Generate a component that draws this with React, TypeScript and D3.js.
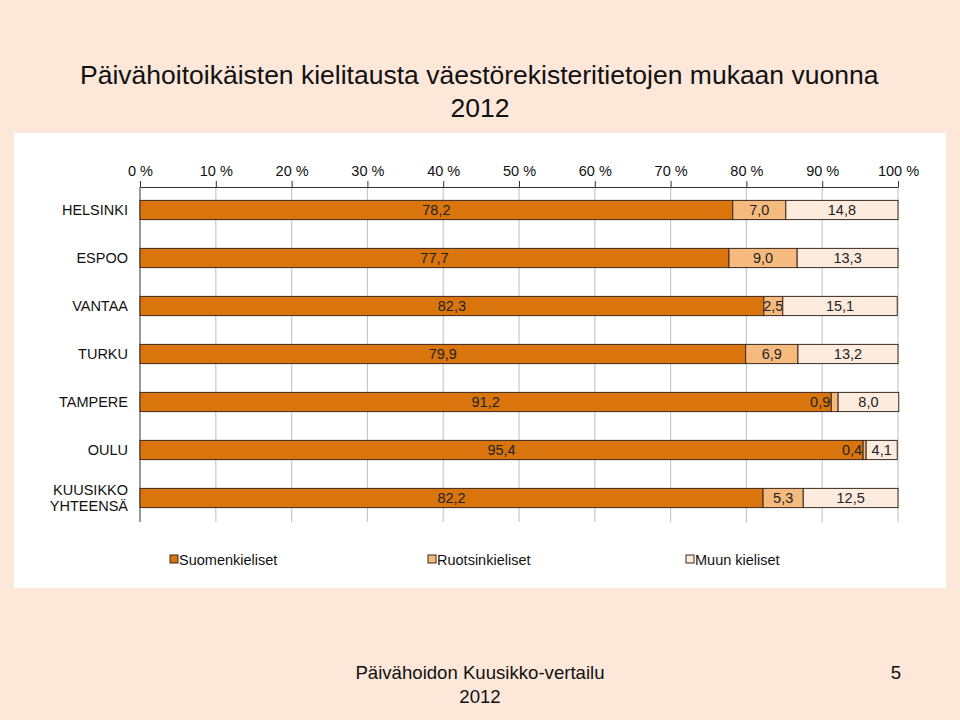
import React, { useEffect, useRef } from 'react';
import * as d3 from 'd3';

const categories = ['HELSINKI', 'ESPOO', 'VANTAA', 'TURKU', 'TAMPERE', 'OULU', 'KUUSIKKO\nYHTEENSÄ'];
const suomi = [78.2, 77.7, 82.3, 79.9, 91.2, 95.4, 82.2];
const ruotsi = [7.0, 9.0, 2.5, 6.9, 0.9, 0.4, 5.3];
const muu = [14.8, 13.3, 15.1, 13.2, 8.0, 4.1, 12.5];
const seriesNames = ['Suomenkieliset', 'Ruotsinkieliset', 'Muun kieliset'];
const seriesColors = ['#DA750E', '#F6BA7E', '#FDEBDD'];
const ticks = [0, 10, 20, 30, 40, 50, 60, 70, 80, 90, 100];

const W = 960;
const H = 720;
const FONT = '"Liberation Sans", Arial, sans-serif';
const FS = 14.5;

const App: React.FC = () => {
  const svgRef = useRef<SVGSVGElement>(null);

  useEffect(() => {
    if (!svgRef.current) return;
    const svg = d3.select(svgRef.current);
    svg.selectAll('*').remove();

    // slide background
    svg.append('rect').attr('width', W).attr('height', H).attr('fill', '#FCE7D9');
    svg.append('rect')
      .attr('x', 14).attr('y', 133).attr('width', 932).attr('height', 455)
      .attr('fill', '#ffffff');

    // title
    svg.append('text')
      .attr('x', 80).attr('y', 84)
      .attr('font-family', FONT).attr('font-size', 26.5).attr('fill', '#111')
      .text('Päivähoitoikäisten kielitausta väestörekisteritietojen mukaan vuonna');
    svg.append('text')
      .attr('x', 480).attr('y', 117).attr('text-anchor', 'middle')
      .attr('font-family', FONT).attr('font-size', 26.5).attr('fill', '#111')
      .text('2012');

    const x = d3.scaleLinear().domain([0, 100]).range([140, 898]);
    const y = d3.scaleBand<string>().domain(categories).range([186, 522]).paddingInner(0.6).paddingOuter(0.3);

    const g = svg.append('g');

    // gridlines
    g.selectAll('.grid')
      .data(ticks.slice(1))
      .enter().append('line')
      .attr('x1', d => x(d)).attr('x2', d => x(d))
      .attr('y1', 187).attr('y2', 522)
      .attr('stroke', '#C8C8C8').attr('stroke-width', 1.2);

    // top axis
    const axis = g.append('g')
      .attr('transform', 'translate(0,187)')
      .call(d3.axisTop(x).tickValues(ticks).tickSize(6).tickSizeOuter(0).tickFormat(d => `${d} %`));
    axis.attr('font-size', FS).attr('font-family', FONT);
    axis.select('.domain').attr('stroke', '#333');
    axis.selectAll('.tick line').attr('stroke', '#333');
    axis.selectAll('.tick text')
      .attr('font-family', FONT).attr('font-size', FS).attr('fill', '#111').attr('dy', '-0.15em');

    // left axis line
    g.append('line')
      .attr('x1', 140).attr('x2', 140).attr('y1', 187).attr('y2', 522)
      .attr('stroke', '#333');

    // stacked bars
    const stacks = categories.map((c, i) => {
      const vals = [suomi[i], ruotsi[i], muu[i]];
      let acc = 0;
      return vals.map((v, k) => {
        const seg = { cat: c, k, v, x0: acc, x1: acc + v };
        acc += v;
        return seg;
      });
    });

    stacks.forEach(row => {
      row.forEach(seg => {
        const x0 = x(seg.x0);
        const x1 = x(seg.x1);
        const yy = y(seg.cat) as number;
        g.append('rect')
          .attr('x', x0).attr('y', yy)
          .attr('width', x1 - x0).attr('height', y.bandwidth())
          .attr('fill', seriesColors[seg.k])
          .attr('stroke', '#3a2a1e').attr('stroke-width', 1);
        const small = x1 - x0 < 10;
        g.append('text')
          .attr('x', small ? x0 - 1 : (x0 + x1) / 2)
          .attr('y', yy + y.bandwidth() / 2 + 5)
          .attr('text-anchor', small ? 'end' : 'middle')
          .attr('font-family', FONT).attr('font-size', FS).attr('fill', '#222')
          .text(d3.format('.1f')(seg.v).replace('.', ','));
      });
    });

    // category labels
    categories.forEach(c => {
      const lines = c.split('\n');
      const cy = (y(c) as number) + y.bandwidth() / 2;
      const t = g.append('text')
        .attr('text-anchor', 'end')
        .attr('font-family', FONT).attr('font-size', FS).attr('fill', '#111');
      lines.forEach((ln, i) => {
        t.append('tspan')
          .attr('x', 128)
          .attr('y', cy + 5 + (i - (lines.length - 1) / 2) * 16)
          .text(ln);
      });
    });

    // legend
    const legendX = [170, 428, 686];
    seriesNames.forEach((name, i) => {
      svg.append('rect')
        .attr('x', legendX[i]).attr('y', 555).attr('width', 8).attr('height', 8)
        .attr('fill', seriesColors[i]).attr('stroke', '#3a2a1e').attr('stroke-width', 1);
      svg.append('text')
        .attr('x', legendX[i] + 9).attr('y', 565)
        .attr('font-family', FONT).attr('font-size', FS).attr('fill', '#111')
        .text(name);
    });

    // footer
    svg.append('text')
      .attr('x', 480).attr('y', 679).attr('text-anchor', 'middle')
      .attr('font-family', FONT).attr('font-size', 18.6).attr('fill', '#111')
      .text('Päivähoidon Kuusikko-vertailu');
    svg.append('text')
      .attr('x', 480).attr('y', 703).attr('text-anchor', 'middle')
      .attr('font-family', FONT).attr('font-size', 18.6).attr('fill', '#111')
      .text('2012');
    svg.append('text')
      .attr('x', 896).attr('y', 679).attr('text-anchor', 'middle')
      .attr('font-family', FONT).attr('font-size', 18.6).attr('fill', '#111')
      .text('5');
  }, []);

  return (
    <svg
      ref={svgRef}
      width={W}
      height={H}
      style={{ position: 'absolute', left: 0, top: 0, display: 'block' }}
    />
  );
};

export default App;
